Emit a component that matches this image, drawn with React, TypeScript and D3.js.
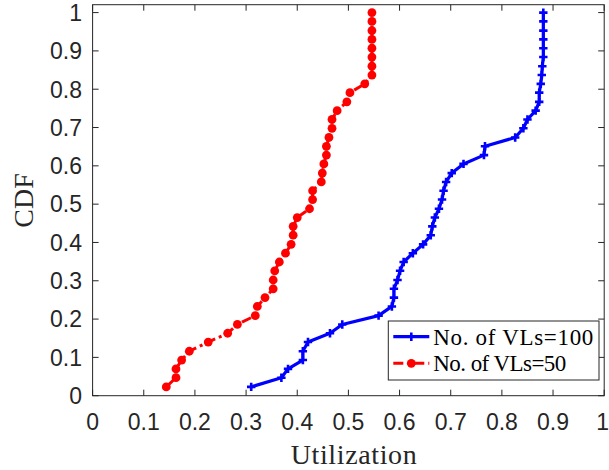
import React from "react";
import * as d3 from "d3";

const cdfLevels = [
  0.023, 0.047, 0.07, 0.093, 0.116, 0.14, 0.163, 0.186, 0.209, 0.233, 0.256,
  0.279, 0.302, 0.326, 0.349, 0.372, 0.395, 0.419, 0.442, 0.465, 0.488, 0.512,
  0.535, 0.558, 0.581, 0.605, 0.628, 0.651, 0.674, 0.698, 0.721, 0.744, 0.767,
  0.791, 0.814, 0.837, 0.86, 0.884, 0.907, 0.93, 0.953, 0.977, 1.0,
];

const util100 = [
  0.31, 0.369, 0.382, 0.411, 0.411, 0.421, 0.464, 0.488, 0.559, 0.585, 0.589,
  0.589, 0.596, 0.601, 0.608, 0.626, 0.646, 0.661, 0.664, 0.669, 0.677, 0.683,
  0.686, 0.691, 0.702, 0.725, 0.765, 0.767, 0.826, 0.842, 0.85, 0.866, 0.873,
  0.873, 0.876, 0.878, 0.879, 0.881, 0.881, 0.881, 0.881, 0.881, 0.881,
];

const util50 = [
  0.144, 0.163, 0.163, 0.174, 0.189, 0.226, 0.264, 0.283, 0.318, 0.322, 0.337,
  0.353, 0.353, 0.356, 0.365, 0.377, 0.388, 0.392, 0.392, 0.4, 0.424, 0.43,
  0.43, 0.447, 0.449, 0.452, 0.457, 0.457, 0.462, 0.468, 0.468, 0.478, 0.497,
  0.503, 0.532, 0.546, 0.546, 0.546, 0.546, 0.546, 0.546, 0.546, 0.546,
];

const xTicks = [0, 0.1, 0.2, 0.3, 0.4, 0.5, 0.6, 0.7, 0.8, 0.9, 1];
const yTicks = [0, 0.1, 0.2, 0.3, 0.4, 0.5, 0.6, 0.7, 0.8, 0.9, 1];
const seriesLabels = ["No. of VLs=100", "No. of VLs=50"];

const W = 609;
const H = 470;
const L = 92.6;
const R = 604.2;
const T = 4.7;
const B = 395.7;

const AX = "#262626";
const BLUE = "#0000ff";
const RED = "#ff0000";
const SANS = "'Liberation Sans', Arial, Helvetica, sans-serif";
const SERIF = "'Liberation Serif', 'Times New Roman', serif";

function Plus({ x, y }: { x: number; y: number }) {
  const s = 4.2;
  return (
    <path
      d={`M${x - s},${y}H${x + s}M${x},${y - s}V${y + s}`}
      stroke={BLUE}
      strokeWidth={2.6}
      fill="none"
    />
  );
}

export default function App() {
  const x = d3.scaleLinear().domain([0, 1]).range([L, R]);
  const y = d3.scaleLinear().domain([0, 1.0206]).range([B, T]);

  const line = d3
    .line<[number, number]>()
    .x((d) => x(d[0]))
    .y((d) => y(d[1]));

  const blueData: [number, number][] = util100.map((v, i) => [v, cdfLevels[i]]);
  const redData: [number, number][] = util50.map((v, i) => [v, cdfLevels[i]]);

  const tickLen = 6;

  const legX = 388.3;
  const legY = 321;
  const legW = 210.7;
  const legH = 59;
  const row1 = 336.7;
  const row2 = 363.3;
  const sampleX0 = 393.3;
  const sampleX1 = 429.3;
  const sampleMid = (sampleX0 + sampleX1) / 2;

  return (
    <div style={{ position: "absolute", left: 0, top: 0 }}>
      <svg width={W} height={H} xmlns="http://www.w3.org/2000/svg">
        <rect x={0} y={0} width={W} height={H} fill="#ffffff" />

        {/* series 100 */}
        <path d={line(blueData) || ""} stroke={BLUE} strokeWidth={3.2} fill="none" strokeLinejoin="round" />
        {blueData.map((d, i) => (
          <Plus key={"b" + i} x={x(d[0])} y={y(d[1])} />
        ))}

        {/* series 50 */}
        <path
          d={line(redData) || ""}
          stroke={RED}
          strokeWidth={3}
          fill="none"
          strokeDasharray="10,4,3,4"
        />
        {redData.map((d, i) => (
          <circle key={"r" + i} cx={x(d[0])} cy={y(d[1])} r={4.4} fill={RED} />
        ))}

        {/* axes box */}
        <rect x={L} y={T} width={R - L} height={B - T} fill="none" stroke={AX} strokeWidth={1} />

        {xTicks.map((t) => (
          <g key={"xt" + t}>
            <line x1={x(t)} x2={x(t)} y1={B} y2={B - tickLen} stroke={AX} strokeWidth={1} />
            <line x1={x(t)} x2={x(t)} y1={T} y2={T + tickLen} stroke={AX} strokeWidth={1} />
            <text
              x={t === 1 ? x(t) - 1.5 : x(t)}
              y={430}
              textAnchor="middle"
              fontFamily={SANS}
              fontSize={23}
              fill={AX}
            >
              {String(t)}
            </text>
          </g>
        ))}

        {yTicks.map((t) => (
          <g key={"yt" + t}>
            <line x1={L} x2={L + tickLen} y1={y(t)} y2={y(t)} stroke={AX} strokeWidth={1} />
            <line x1={R} x2={R - tickLen} y1={y(t)} y2={y(t)} stroke={AX} strokeWidth={1} />
            <text
              x={82}
              y={y(t) + 8.3}
              textAnchor="end"
              fontFamily={SANS}
              fontSize={23}
              fill={AX}
            >
              {String(t)}
            </text>
          </g>
        ))}

        <text
          x={353.7}
          y={464}
          textAnchor="middle"
          fontFamily={SERIF}
          fontSize={28}
          fill={AX}
          textLength={126}
          lengthAdjust="spacing"
        >
          Utilization
        </text>
        <text
          transform={`translate(32.5,200.5) rotate(-90)`}
          textAnchor="middle"
          fontFamily={SERIF}
          fontSize={28}
          fill={AX}
        >
          CDF
        </text>

        {/* legend */}
        <rect x={legX} y={legY} width={legW} height={legH} fill="#ffffff" stroke={AX} strokeWidth={1} />
        <line x1={sampleX0} x2={sampleX1} y1={row1} y2={row1} stroke={BLUE} strokeWidth={3.2} />
        <Plus x={sampleMid} y={row1} />
        <line
          x1={sampleX0}
          x2={sampleX1}
          y1={row2}
          y2={row2}
          stroke={RED}
          strokeWidth={3}
          strokeDasharray="10,4,3,4"
        />
        <circle cx={sampleMid} cy={row2} r={4.4} fill={RED} />
        <text
          x={433.3}
          y={row1 + 8}
          fontFamily={SERIF}
          fontSize={23}
          fill="#000000"
          textLength={160}
          lengthAdjust="spacing"
        >
          {seriesLabels[0]}
        </text>
        <text
          x={433.3}
          y={row2 + 8}
          fontFamily={SERIF}
          fontSize={23}
          fill="#000000"
          textLength={133}
          lengthAdjust="spacing"
        >
          {seriesLabels[1]}
        </text>
      </svg>
    </div>
  );
}
